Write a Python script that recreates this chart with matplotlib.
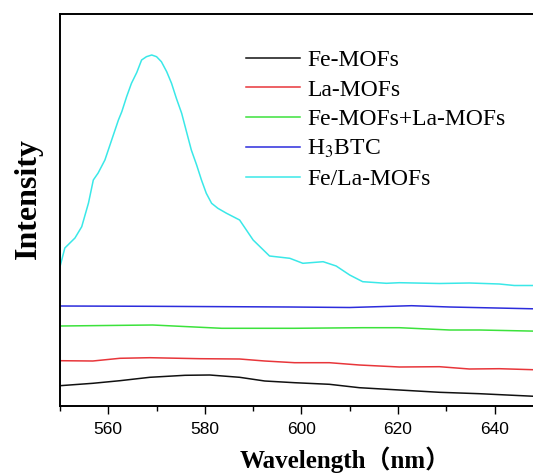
import matplotlib
matplotlib.use("Agg")
import matplotlib.pyplot as plt
from matplotlib.ticker import MultipleLocator, NullLocator

plt.rcParams['mathtext.fontset'] = 'stix'

# spectra (arbitrary intensity units)
wl_fela = [550.0, 551.0, 553.1, 554.5, 555.9, 556.9, 557.9, 559.3, 560.0, 560.7,
           561.4, 562.1, 562.8, 563.8, 564.8, 565.9, 566.9, 567.9, 569.0, 570.0,
           571.0, 572.1, 573.1, 574.1, 575.2, 576.2, 577.2, 578.3, 579.3, 580.3,
           581.4, 582.7, 584.5, 587.2, 590.0, 593.4, 597.6, 600.3, 604.5, 607.2,
           610.0, 612.7, 617.6, 620.3, 628.6, 634.8, 641.0, 644.1, 650.0]
i_fela = [138.8, 157.5, 167.5, 178.8, 202.5, 225.5, 232.5, 245.5, 255.5, 265.5,
          275.5, 285.5, 293.8, 308.8, 322.2, 333.0, 345.5, 348.8, 350.5, 348.8,
          343.8, 333.8, 322.2, 307.2, 292.2, 273.8, 255.5, 240.5, 225.5, 212.2,
          202.2, 197.2, 192.2, 185.5, 165.5, 149.5, 147.2, 142.2, 143.8, 139.5,
          130.5, 123.8, 122.2, 122.8, 122.0, 122.5, 121.5, 120.0, 120.0]

wl_btc = [550.0, 568.6, 597.6, 610.0, 622.8, 630.7, 650.0]
i_btc = [99.5, 99.2, 98.5, 98.0, 99.8, 98.5, 96.5]

wl_mix = [550.0, 569.2, 583.5, 598.6, 612.7, 620.3, 630.7, 636.9, 650.0]
i_mix = [79.5, 80.5, 77.2, 77.2, 77.8, 77.8, 75.5, 75.5, 74.2]

wl_la = [550.0, 556.8, 562.4, 568.6, 579.0, 587.2, 592.4, 598.6, 605.8, 612.0,
         620.3, 628.6, 634.8, 641.0, 650.0]
i_la = [44.8, 44.5, 47.2, 47.8, 46.8, 46.5, 44.5, 42.8, 42.8, 40.5,
        38.5, 38.8, 36.5, 36.8, 35.5]

wl_fe = [550.0, 556.8, 562.4, 568.6, 575.9, 581.0, 587.2, 592.4, 598.6, 605.8,
         612.0, 620.3, 628.6, 636.9, 650.0]
i_fe = [19.8, 22.2, 24.8, 28.2, 30.2, 30.5, 28.2, 24.5, 22.8, 21.2,
        17.8, 15.5, 13.2, 11.8, 8.8]

labels = ["Fe-MOFs", "La-MOFs", "Fe-MOFs+La-MOFs", "H$_3$BTC", "Fe/La-MOFs"]
colors = ["#111111", "#e8363a", "#3ce23c", "#2c2cdc", "#3ae8e8"]

fig = plt.figure(figsize=(5.33, 4.76), dpi=100)
ax = fig.add_axes([60 / 533, 1 - 405.5 / 476, 482.8 / 533, (405.5 - 14) / 476])

series = [(wl_fe, i_fe), (wl_la, i_la), (wl_mix, i_mix), (wl_btc, i_btc), (wl_fela, i_fela)]
handles = []
for (x, y), lab, c in zip(series, labels, colors):
    h, = ax.plot(x, y, color=c, lw=1.1, label=lab, solid_joinstyle='round')
    handles.append(h)

ax.set_xlim(550, 650)
ax.set_ylim(0, 391.5)
ax.xaxis.set_major_locator(MultipleLocator(20))
ax.xaxis.set_minor_locator(MultipleLocator(10))
ax.yaxis.set_major_locator(NullLocator())
for s in ax.spines.values():
    s.set_linewidth(1.4)
ax.tick_params(axis='x', which='major', direction='out', length=6, width=1.0,
               pad=6, labelsize=12.5)
ax.tick_params(axis='x', which='minor', direction='out', length=3.5, width=1.0)
for t in ax.get_xticklabels():
    t.set_fontfamily('Liberation Sans')

fig.legend(handles=handles, labels=labels, loc='upper left',
           bbox_to_anchor=(246 / 533, 1 - 49.5 / 476), frameon=False,
           borderpad=0, borderaxespad=0, handlelength=2.3, handletextpad=0.28,
           labelspacing=0.34, prop={'family': 'Liberation Serif', 'size': 17})

fig.text(28 / 533, 1 - 198.5 / 476, "Intensity", rotation=90, ha='center', va='center',
         family='Liberation Serif', weight='bold', fontsize=23)
fig.text(240 / 533, 1 - 468.3 / 476, "Wavelength（nm）", ha='left', va='baseline',
         family=['Liberation Serif', 'Noto Sans CJK SC'], weight='bold', fontsize=18)

fig.savefig("out.png", dpi=100)
